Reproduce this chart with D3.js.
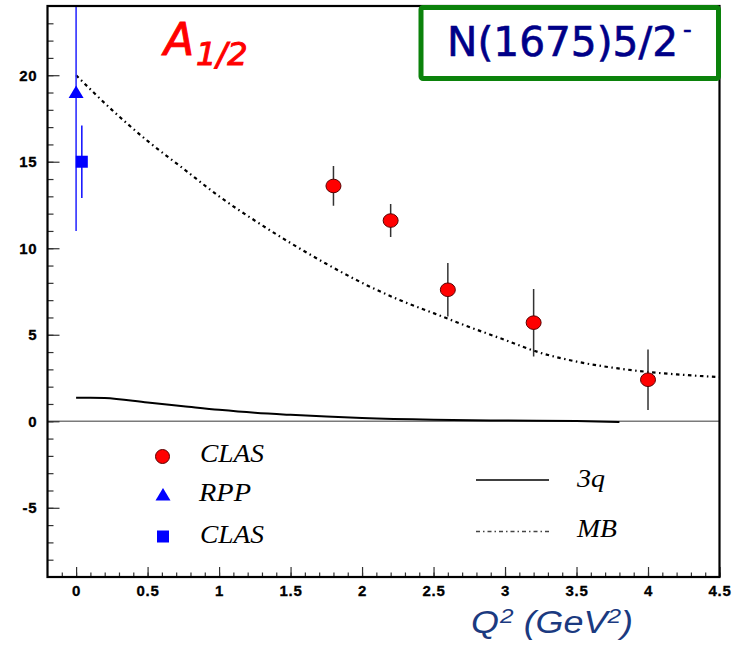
<!DOCTYPE html>
<html>
<head>
<meta charset="utf-8">
<script src="https://cdn.jsdelivr.net/npm/d3@7"></script>
<style>
  html, body { margin: 0; padding: 0; background: #fff; }
  svg { display: block; }
</style>
</head>
<body>
<svg id="chart" width="748" height="649"></svg>
<script>
// CLAS electroproduction points for A1/2 of N(1675)5/2-
const clasQ2 = [1.8, 2.2, 2.6, 3.2, 4.0];
const clasA12 = [13.6, 11.6, 7.6, 5.7, 2.4];
const clasErr = [1.15, 0.95, 1.55, 1.95, 1.75];

// Photon point (RPP)
const rppQ2 = [0];
const rppA12 = [19];
const rppErr = [8];

// CLAS photoproduction point
const clasPhotoQ2 = [0.04];
const clasPhotoA12 = [15];
const clasPhotoErr = [2.1];

// Meson-baryon cloud (MB) curve
const mbQ2 = [0, 0.25, 0.5, 0.75, 1.0, 1.25, 1.5, 1.75, 2.0, 2.25, 2.5, 2.75, 3.0, 3.25, 3.5, 3.75, 4.0, 4.25, 4.5];
const mbA12 = [20.0, 18.0, 16.2, 14.6, 13.0, 11.6, 10.3, 9.1, 8.0, 7.05, 6.25, 5.45, 4.7, 3.95, 3.45, 3.1, 2.85, 2.68, 2.55];

// Three-quark (3q) curve
const q3Q2 = [0, 0.1, 0.2, 0.5, 0.75, 1.0, 1.25, 1.5, 1.75, 2.0, 2.5, 3.0, 3.5, 3.8];
const q3A12 = [1.36, 1.36, 1.34, 1.08, 0.87, 0.66, 0.49, 0.37, 0.27, 0.19, 0.09, 0.04, 0.01, -0.04];

// Axis ticks
const xTickValues = [0, 0.5, 1, 1.5, 2, 2.5, 3, 3.5, 4, 4.5];
const xTickLabels = ["0", "0.5", "1", "1.5", "2", "2.5", "3", "3.5", "4", "4.5"];
const yTickValues = [-5, 0, 5, 10, 15, 20];
const yTickLabels = ["-5", "0", "5", "10", "15", "20"];

const svg = d3.select("#chart");

const x = d3.scaleLinear().domain([-0.2, 4.5]).range([47.5, 719.5]);
const y = d3.scaleLinear().domain([-9, 24]).range([577, 6]);

const [x0, x1] = x.range();
const [yb, yt] = y.range();

svg.append("defs").append("clipPath").attr("id", "plotClip")
  .append("rect").attr("x", x0).attr("y", yt).attr("width", x1 - x0).attr("height", yb - yt);

const tickFont = "'Liberation Sans', Arial, sans-serif";

// zero line
svg.append("line")
  .attr("x1", x0).attr("x2", x1)
  .attr("y1", y(0)).attr("y2", y(0))
  .attr("stroke", "#7a7a7a").attr("stroke-width", 1.5);

// minor y ticks (every unit)
const yMinor = d3.range(-8, 24, 1);
svg.append("g").attr("transform", `translate(${x0},0)`)
  .call(d3.axisLeft(y).tickValues(yMinor).tickSizeInner(-6).tickSizeOuter(0).tickFormat(""))
  .call(g => g.select(".domain").remove())
  .call(g => g.selectAll("line").attr("stroke", "#333").attr("stroke-width", 1.2));

// major y ticks with labels
svg.append("g").attr("transform", `translate(${x0},0)`)
  .call(d3.axisLeft(y).tickValues(yTickValues).tickSizeInner(-12).tickSizeOuter(0).tickPadding(10)
    .tickFormat((d, i) => yTickLabels[i]))
  .call(g => g.select(".domain").remove())
  .call(g => g.selectAll("line").attr("stroke", "#333").attr("stroke-width", 1.2))
  .call(g => g.selectAll("text")
    .attr("font-family", tickFont)
    .attr("font-weight", "bold").attr("font-size", 15).attr("fill", "#000")
    .attr("stroke", "#000").attr("stroke-width", 0.3)
    .attr("letter-spacing", 0.8));

// minor x ticks (every 0.1)
const xMinor = d3.range(-1, 46, 1).map(d => d / 10);
svg.append("g").attr("transform", `translate(0,${yb})`)
  .call(d3.axisBottom(x).tickValues(xMinor).tickSizeInner(-4.5).tickSizeOuter(0).tickFormat(""))
  .call(g => g.select(".domain").remove())
  .call(g => g.selectAll("line").attr("stroke", "#333").attr("stroke-width", 1.2));

// major x ticks with labels
svg.append("g").attr("transform", `translate(0,${yb})`)
  .call(d3.axisBottom(x).tickValues(xTickValues).tickSizeInner(-10).tickSizeOuter(0).tickPadding(8)
    .tickFormat((d, i) => xTickLabels[i]))
  .call(g => g.select(".domain").remove())
  .call(g => g.selectAll("line").attr("stroke", "#333").attr("stroke-width", 1.2))
  .call(g => g.selectAll("text")
    .attr("font-family", tickFont)
    .attr("font-weight", "bold").attr("font-size", 15).attr("fill", "#000")
    .attr("stroke", "#000").attr("stroke-width", 0.3)
    .attr("letter-spacing", 0.8));

const plot = svg.append("g").attr("clip-path", "url(#plotClip)");

// curves
const line = d3.line().x(d => x(d[0])).y(d => y(d[1])).curve(d3.curveMonotoneX);

plot.append("path")
  .datum(q3Q2.map((q, i) => [q, q3A12[i]]))
  .attr("d", line)
  .attr("fill", "none").attr("stroke", "#000").attr("stroke-width", 2);

plot.append("path")
  .datum(mbQ2.map((q, i) => [q, mbA12[i]]))
  .attr("d", line)
  .attr("fill", "none").attr("stroke", "#000").attr("stroke-width", 2.2)
  .attr("stroke-dasharray", "3.5,3.5,1.5,3.5");

// RPP point
rppQ2.forEach((q, i) => {
  plot.append("line")
    .attr("x1", x(q)).attr("x2", x(q))
    .attr("y1", y(rppA12[i] + rppErr[i])).attr("y2", y(rppA12[i] - rppErr[i]))
    .attr("stroke", "#3030ff").attr("stroke-width", 1.6);
  plot.append("path")
    .attr("transform", `translate(${x(q)},${y(rppA12[i])})`)
    .attr("d", "M0,-7L7.5,5.5L-7.5,5.5Z")
    .attr("fill", "#0000ff");
});

// CLAS photoproduction point
clasPhotoQ2.forEach((q, i) => {
  plot.append("line")
    .attr("x1", x(q)).attr("x2", x(q))
    .attr("y1", y(clasPhotoA12[i] + clasPhotoErr[i])).attr("y2", y(clasPhotoA12[i] - clasPhotoErr[i]))
    .attr("stroke", "#1a1aff").attr("stroke-width", 1.6);
  plot.append("rect")
    .attr("x", x(q) - 6).attr("y", y(clasPhotoA12[i]) - 6)
    .attr("width", 12).attr("height", 12)
    .attr("fill", "#0000ff");
});

// CLAS electroproduction points
clasQ2.forEach((q, i) => {
  plot.append("line")
    .attr("x1", x(q)).attr("x2", x(q))
    .attr("y1", y(clasA12[i] + clasErr[i])).attr("y2", y(clasA12[i] - clasErr[i]))
    .attr("stroke", "#333").attr("stroke-width", 1.5);
  plot.append("ellipse")
    .attr("cx", x(q)).attr("cy", y(clasA12[i]))
    .attr("rx", 7.5).attr("ry", 6.8)
    .attr("fill", "#ff0000").attr("stroke", "#5a0000").attr("stroke-width", 1);
});

// frame
svg.append("rect")
  .attr("x", x0).attr("y", yt).attr("width", x1 - x0).attr("height", yb - yt)
  .attr("fill", "none").attr("stroke", "#000").attr("stroke-width", 2.2);

// legend
const legFont = "'Liberation Serif', 'Times New Roman', serif";
const leg = svg.append("g");
leg.append("ellipse").attr("cx", 162.5).attr("cy", 456.5).attr("rx", 7).attr("ry", 7)
  .attr("fill", "#ff0000").attr("stroke", "#5a0000").attr("stroke-width", 1);
leg.append("path").attr("transform", "translate(163,495)").attr("d", "M0,-7L7.5,5.5L-7.5,5.5Z").attr("fill", "#0000ff");
leg.append("rect").attr("x", 157).attr("y", 530.5).attr("width", 12).attr("height", 12).attr("fill", "#0000ff");

const legText = [
  { t: "CLAS", x: 200, y: 462, w: 64 },
  { t: "RPP", x: 199, y: 501, w: 52 },
  { t: "CLAS", x: 200, y: 543, w: 64 },
  { t: "3q", x: 577, y: 487, w: 28 },
  { t: "MB", x: 577, y: 537, w: 40 }
];
leg.selectAll("text.leg").data(legText).join("text")
  .attr("class", "leg")
  .attr("x", d => d.x).attr("y", d => d.y)
  .attr("textLength", d => d.w).attr("lengthAdjust", "spacingAndGlyphs")
  .attr("font-family", legFont).attr("font-style", "italic").attr("font-size", 25)
  .attr("fill", "#000").text(d => d.t);

leg.append("line").attr("x1", 476).attr("x2", 549).attr("y1", 480).attr("y2", 480)
  .attr("stroke", "#000").attr("stroke-width", 1.4);
leg.append("line").attr("x1", 476).attr("x2", 549).attr("y1", 531.5).attr("y2", 531.5)
  .attr("stroke", "#444").attr("stroke-width", 1.4).attr("stroke-dasharray", "4,3,1.5,3");

// amplitude title
const title = svg.append("text").attr("x", 164).attr("y", 55)
  .attr("font-family", "'DejaVu Sans', sans-serif").attr("font-style", "italic")
  .attr("fill", "#ff0000").attr("stroke", "#ff0000").attr("stroke-width", 1);
title.append("tspan").attr("font-size", 44).text("A");
title.append("tspan").attr("font-size", 32).attr("dy", 10).attr("dx", 2).text("1/2");

// resonance label box
svg.append("rect")
  .attr("x", 421).attr("y", 7.5).attr("width", 297.5).attr("height", 71)
  .attr("rx", 2)
  .attr("fill", "#fff").attr("stroke", "#0b820b").attr("stroke-width", 5);
const res = svg.append("text").attr("x", 447).attr("y", 56)
  .attr("font-family", "'DejaVu Sans', sans-serif").attr("fill", "#000088")
  .attr("stroke", "#000088").attr("stroke-width", 0.6);
res.append("tspan").attr("font-size", 40).attr("textLength", 231).attr("lengthAdjust", "spacingAndGlyphs").text("N(1675)5/2");
res.append("tspan").attr("font-size", 24).attr("dy", -18).attr("dx", 5).text("-");

// x axis title
const xt = svg.append("text").attr("x", 471).attr("y", 633)
  .attr("font-family", "'Liberation Sans', Arial, sans-serif").attr("font-style", "italic")
  .attr("font-size", 31).attr("fill", "#1b3a80")
  .attr("textLength", 162).attr("lengthAdjust", "spacingAndGlyphs");
xt.append("tspan").text("Q");
xt.append("tspan").attr("font-size", 21).attr("dy", -10).attr("dx", 1).text("2");
xt.append("tspan").attr("dy", 10).text(" (GeV");
xt.append("tspan").attr("font-size", 21).attr("dy", -10).text("2");
xt.append("tspan").attr("dy", 10).text(")");
</script>
</body>
</html>
